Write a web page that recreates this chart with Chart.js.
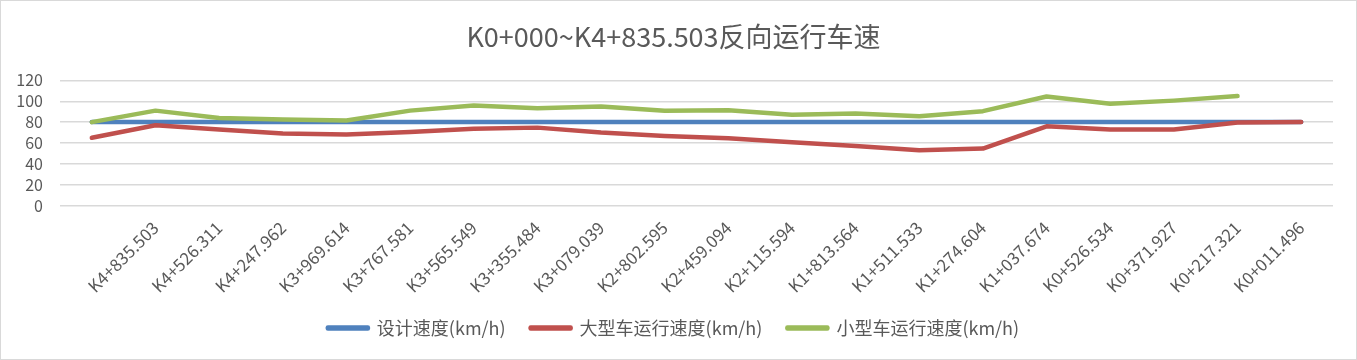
<!DOCTYPE html>
<html>
<head>
<meta charset="utf-8">
<script src="https://cdn.jsdelivr.net/npm/chart.js@4.4.1/dist/chart.umd.min.js"></script>
<style>
  html, body { margin: 0; padding: 0; background: #fff; }
  #wrap { width: 1357px; height: 360px; }
</style>
</head>
<body>
<div id="wrap"><canvas id="chart"></canvas></div>
<script>
const FONT = "'Noto Sans CJK SC', 'Noto Sans', sans-serif";
const GREY = "#595959";

// first category has no label in the source sheet
const stations = ["", "K4+835.503", "K4+526.311", "K4+247.962", "K3+969.614", "K3+767.581",
  "K3+565.549", "K3+355.484", "K3+079.039", "K2+802.595", "K2+459.094", "K2+115.594",
  "K1+813.564", "K1+511.533", "K1+274.604", "K1+037.674", "K0+526.534", "K0+371.927",
  "K0+217.321", "K0+011.496"];

const designSpeed = [80, 80, 80, 80, 80, 80, 80, 80, 80, 80, 80, 80, 80, 80, 80, 80, 80, 80, 80, 80];
const truckSpeed = [65, 77, 73, 69, 68, 70.5, 73.7, 74.7, 70, 66.7, 64.5, 60.7, 57, 53, 54.6, 76, 72.8, 72.8, 79.7, 80];
const carSpeed = [80, 91, 84, 82.6, 81.6, 91, 96, 93.4, 95, 90.8, 91.4, 87, 88.3, 85.7, 90.5, 104.5, 97.5, 100.6, 105];

const yTicks = [0, 20, 40, 60, 80, 100, 120];

/* ========== frame + white background ========== */
const framePlugin = {
  id: "frame",
  beforeDraw(chart){
    const c = chart.ctx;
    c.save();
    c.fillStyle = "#fff";
    c.fillRect(0, 0, chart.width, chart.height);
    c.strokeStyle = "#d9d9d9";
    c.lineWidth = 1;
    c.strokeRect(0.5, 0.5, chart.width - 1, chart.height - 1);
    c.restore();
  }
};

function series(label, data, color, order){
  return {
    label: label,
    data: data,
    borderColor: color,
    backgroundColor: color,
    borderWidth: 4.5,
    borderCapStyle: "round",
    borderJoinStyle: "round",
    pointRadius: 0,
    tension: 0,
    order: order
  };
}

new Chart(document.getElementById("chart"), {
  type: "line",
  data: {
    labels: stations,
    datasets: [
      series("设计速度(km/h)", designSpeed, "#4F81BD", 3),
      series("大型车运行速度(km/h)", truckSpeed, "#C0504D", 2),
      series("小型车运行速度(km/h)", carSpeed, "#9BBB59", 1)
    ]
  },
  options: {
    responsive: true,
    maintainAspectRatio: false,
    animation: false,
    layout: { padding: { left: 14, right: 24, top: 0, bottom: 20 } },
    plugins: {
      title: {
        display: true,
        text: "K0+000~K4+835.503反向运行车速",
        color: GREY,
        font: { family: FONT, size: 27, weight: "normal" },
        padding: { top: 21, bottom: 27 }
      },
      legend: {
        position: "bottom",
        maxHeight: 46, // keep the box short, item gaps come from padding
        labels: {
          color: GREY,
          font: { family: FONT, size: 18 },
          boxWidth: 40,
          boxHeight: 1,
          padding: 25,
          sort: (a, b) => a.datasetIndex - b.datasetIndex
        }
      },
      tooltip: { enabled: false }
    },
    scales: {
      x: {
        offset: true,
        grid: { display: false },
        border: { display: false },
        afterFit: s => { s.height = 88.5; },
        ticks: {
          color: GREY,
          font: { family: FONT, size: 17 },
          minRotation: 45,
          maxRotation: 45,
          autoSkip: false,
          padding: 4
        }
      },
      y: {
        min: 0,
        max: 120,
        afterFit: s => { s.width = 46; },
        afterBuildTicks: s => { s.ticks = yTicks.map(v => ({ value: v })); },
        grid: { color: "#d9d9d9", lineWidth: 1.5, drawTicks: false },
        border: { display: false },
        ticks: {
          color: GREY,
          font: { family: FONT, size: 16 },
          autoSkip: false,
          padding: 17
        }
      }
    }
  },
  plugins: [framePlugin]
});
</script>
</body>
</html>
